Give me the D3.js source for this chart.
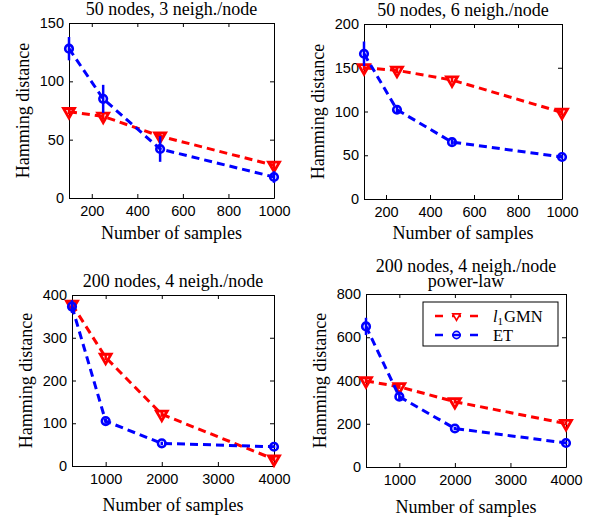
<!DOCTYPE html>
<html>
<head>
<meta charset="utf-8">
<script src="https://cdn.jsdelivr.net/npm/d3@7"></script>
<style>
    body { margin: 0; background: #fff; }
    .lbl { font-family: "Liberation Serif", "Times New Roman", serif; font-size: 18px; fill: #000; }
    .leg { font-family: "Liberation Serif", "Times New Roman", serif; font-size: 16.5px; fill: #000; }
</style>
</head>
<body>
<div id="chart"></div>
<script>
// sample sizes on the x axis
var samplesSmall = [100, 250, 500, 1000];
var samplesLarge = [400, 1000, 2000, 4000];

// l1GMN hamming distances (one array per panel)
var gmn50n3 = [74, 70, 53, 28];
var gmn50n6 = [150, 147, 136, 99];
var gmn200n4 = [378, 254, 121, 16];
var gmn200pl = [398, 371, 302, 201];
var gmnErr50n3 = [2, 3, 3, 3];
var gmnErr50n6 = [3, 3, 3, 3];
var gmnErr200n4 = [6, 6, 6, 5];
var gmnErr200pl = [10, 10, 8, 8];

// ET hamming distances
var et50n3 = [128, 85, 42, 18];
var et50n6 = [166, 102, 65, 48];
var et200n4 = [373, 105, 53, 45];
var et200pl = [650, 325, 178, 111];
var etErr50n3 = [10, 12, 11, 5];
var etErr50n6 = [14, 4, 3, 2];
var etErr200n4 = [15, 6, 4, 3];
var etErr200pl = [40, 15, 8, 6];

// tick labels
var xTicksSmall = [200, 400, 600, 800, 1000];
var xTicksLarge = [1000, 2000, 3000, 4000];
var yTicks50n3 = [0, 50, 100, 150];
var yTicks50n6 = [0, 50, 100, 150, 200];
var yTicks200n4 = [0, 100, 200, 300, 400];
var yTicks200pl = [0, 200, 400, 600, 800];

var titles = [
    ["50 nodes, 3 neigh./node"],
    ["50 nodes, 6 neigh./node"],
    ["200 nodes, 4 neigh./node"],
    ["200 nodes, 4 neigh./node", "power-law"]
];
var seriesNames = ["l1GMN", "ET"];

var red = "#ff0000", blue = "#0000ff";

var svg = d3.select("#chart")
    .append("svg")
    .attr("width", 599)
    .attr("height", 525);

// panel layout: box position in page pixels
var panels = [
    { left: 69, right: 274, top: 23, bottom: 198, xlab: 41, x: samplesSmall, xd: [100, 1000], xt: xTicksSmall,
      yt: yTicks50n3, gmn: gmn50n3, gErr: gmnErr50n3, et: et50n3, eErr: etErr50n3, title: titles[0] },
    { left: 364, right: 562, top: 24, bottom: 199, xlab: 40, x: samplesSmall, xd: [100, 1000], xt: xTicksSmall,
      yt: yTicks50n6, gmn: gmn50n6, gErr: gmnErr50n6, et: et50n6, eErr: etErr50n6, title: titles[1] },
    { left: 72, right: 274, top: 295, bottom: 466, xlab: 45, x: samplesLarge, xd: [400, 4000], xt: xTicksLarge,
      yt: yTicks200n4, gmn: gmn200n4, gErr: gmnErr200n4, et: et200n4, eErr: etErr200n4, title: titles[2] },
    { left: 366, right: 566, top: 294, bottom: 467, xlab: 46, x: samplesLarge, xd: [400, 4000], xt: xTicksLarge,
      yt: yTicks200pl, gmn: gmn200pl, gErr: gmnErr200pl, et: et200pl, eErr: etErr200pl, title: titles[3], legend: true }
];

function styleAxis(a) {
    a.attr("font-family", "'Liberation Sans', Arial, sans-serif")
        .attr("font-size", 14.5);
    a.select(".domain").attr("stroke", "#000");
    a.selectAll(".tick line").attr("stroke", "#000");
    a.selectAll(".tick text").attr("fill", "#000");
}

function drawPanel(p) {
    var g = svg.append("g");
    var x = d3.scaleLinear().domain(p.xd).range([p.left, p.right]);
    var y = d3.scaleLinear().domain([p.yt[0], p.yt[p.yt.length - 1]]).range([p.bottom, p.top]);
    var fmt = d3.format("d");

    // axes with inward ticks on all four sides
    g.append("g")
        .attr("transform", "translate(0," + p.bottom + ")")
        .call(d3.axisBottom(x).tickValues(p.xt).tickFormat(fmt).tickSizeInner(-4).tickSizeOuter(0).tickPadding(8))
        .call(styleAxis);
    g.append("g")
        .attr("transform", "translate(0," + p.top + ")")
        .call(d3.axisTop(x).tickValues(p.xt).tickSizeInner(-4).tickSizeOuter(0).tickFormat(""))
        .call(styleAxis);
    g.append("g")
        .attr("transform", "translate(" + p.left + ",0)")
        .call(d3.axisLeft(y).tickValues(p.yt).tickFormat(fmt).tickSizeInner(-4).tickSizeOuter(0).tickPadding(5))
        .call(styleAxis);
    g.append("g")
        .attr("transform", "translate(" + p.right + ",0)")
        .call(d3.axisRight(y).tickValues(p.yt).tickSizeInner(-4).tickSizeOuter(0).tickFormat(""))
        .call(styleAxis);

    // title
    var multi = p.title.length > 1;
    var t = g.append("text")
        .attr("class", "lbl")
        .attr("text-anchor", "middle")
        .attr("x", (p.left + p.right) / 2)
        .attr("y", p.top - (multi ? 22 : 8.5));
    p.title.forEach(function (line, i) {
        t.append("tspan").attr("x", (p.left + p.right) / 2).attr("dy", i == 0 ? 0 : 15).text(line);
    });

    // axis labels
    g.append("text")
        .attr("class", "lbl")
        .attr("text-anchor", "middle")
        .attr("x", (p.left + p.right) / 2)
        .attr("y", p.bottom + p.xlab)
        .text("Number of samples");
    g.append("text")
        .attr("class", "lbl")
        .attr("text-anchor", "middle")
        .attr("transform", "translate(" + (p.left - 40) + "," + ((p.top + p.bottom) / 2) + ") rotate(-90)")
        .text("Hamming distance");

    var series = [
        { vals: p.gmn, err: p.gErr, color: red, marker: "tri" },
        { vals: p.et, err: p.eErr, color: blue, marker: "circ" }
    ];
    series.forEach(function (s) {
        var pts = p.x.map(function (d, i) { return { x: d, y: s.vals[i], e: s.err[i] }; });
        g.append("path")
            .datum(pts)
            .attr("fill", "none")
            .attr("stroke", s.color)
            .attr("stroke-width", 3)
            .attr("stroke-dasharray", "8,5")
            .attr("d", d3.line()
                .x(function (d) { return x(d.x); })
                .y(function (d) { return y(d.y); }));
        g.selectAll(null)
            .data(pts)
            .enter()
            .append("line")
            .attr("x1", function (d) { return x(d.x); })
            .attr("x2", function (d) { return x(d.x); })
            .attr("y1", function (d) { return y(d.y - d.e); })
            .attr("y2", function (d) { return y(d.y + d.e); })
            .attr("stroke", s.color)
            .attr("stroke-width", 2.5);
        if (s.marker == "tri") {
            g.selectAll(null)
                .data(pts)
                .enter()
                .append("path")
                .attr("d", d3.symbol(d3.symbolTriangle, 52))
                .attr("transform", function (d) { return "translate(" + x(d.x) + "," + y(d.y) + ") rotate(180)"; })
                .attr("fill", "none")
                .attr("stroke", s.color)
                .attr("stroke-width", 2.8);
        } else {
            g.selectAll(null)
                .data(pts)
                .enter()
                .append("circle")
                .attr("cx", function (d) { return x(d.x); })
                .attr("cy", function (d) { return y(d.y); })
                .attr("r", 3.8)
                .attr("fill", "none")
                .attr("stroke", s.color)
                .attr("stroke-width", 2.6);
        }
    });

    if (p.legend) drawLegend(g);
}

function drawLegend(g) {
    g.append("rect")
        .attr("x", 423).attr("y", 302)
        .attr("width", 135).attr("height", 44)
        .attr("fill", "#fff")
        .attr("stroke", "#000")
        .attr("stroke-width", 1);
    var rows = [{ c: red, m: "tri", y: 316 }, { c: blue, m: "circ", y: 335 }];
    rows.forEach(function (r, i) {
        g.append("line")
            .attr("x1", 435).attr("x2", 478)
            .attr("y1", r.y).attr("y2", r.y)
            .attr("stroke", r.c)
            .attr("stroke-width", 2.5)
            .attr("stroke-dasharray", "8,9,9,9,8");
        if (r.m == "tri") {
            g.append("path")
                .attr("d", d3.symbol(d3.symbolTriangle, 24))
                .attr("transform", "translate(456.5," + r.y + ") rotate(180)")
                .attr("fill", "#fff")
                .attr("stroke", r.c)
                .attr("stroke-width", 1.6);
        } else {
            g.append("circle")
                .attr("cx", 456.5).attr("cy", r.y).attr("r", 3.6)
                .attr("fill", "none")
                .attr("stroke", r.c)
                .attr("stroke-width", 1.6);
        }
        var txt = g.append("text")
            .attr("class", "leg")
            .attr("x", 493)
            .attr("y", r.y + 6);
        if (i == 0) {
            txt.append("tspan").style("font-style", "italic").text("l");
            txt.append("tspan").attr("dy", 2.5).style("font-size", "11px").text("1");
            txt.append("tspan").attr("dy", -2.5).attr("dx", 1).text("GMN");
        } else {
            txt.text(seriesNames[1]);
        }
    });
}

panels.forEach(drawPanel);
</script>
</body>
</html>
